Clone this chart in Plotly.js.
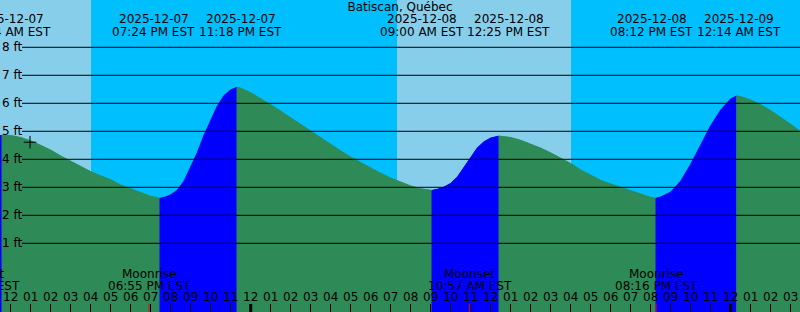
<!DOCTYPE html>
<html>
<head>
<meta charset="utf-8">
<script src="https://cdn.plot.ly/plotly-3.0.1.min.js"></script>
<style>html,body{margin:0;padding:0;background:#00BFFF;}#chart{width:800px;height:312px;}</style>
</head>
<body>
<div id="chart"></div>
<script>
// ---- data ----
const stationName = 'Batiscan, Québec';
const tideTimes = [
  '2025-12-07 11:27','2025-12-07 11:34','2025-12-07 12:00','2025-12-07 12:30','2025-12-07 13:00',
  '2025-12-07 13:30','2025-12-07 14:00','2025-12-07 14:30','2025-12-07 15:00','2025-12-07 15:30',
  '2025-12-07 16:00','2025-12-07 16:30','2025-12-07 17:00','2025-12-07 17:30','2025-12-07 18:00',
  '2025-12-07 18:30','2025-12-07 19:00','2025-12-07 19:28','2025-12-07 19:44','2025-12-07 20:00',
  '2025-12-07 20:20','2025-12-07 20:40','2025-12-07 21:00','2025-12-07 21:20','2025-12-07 21:40',
  '2025-12-07 22:00','2025-12-07 22:20','2025-12-07 22:40','2025-12-07 23:00','2025-12-07 23:19',
  '2025-12-07 23:30','2025-12-08 00:00','2025-12-08 00:30','2025-12-08 01:00','2025-12-08 01:30',
  '2025-12-08 02:00','2025-12-08 02:30','2025-12-08 03:00','2025-12-08 03:30','2025-12-08 04:00',
  '2025-12-08 04:30','2025-12-08 05:00','2025-12-08 05:30','2025-12-08 06:00','2025-12-08 06:30',
  '2025-12-08 07:00','2025-12-08 07:30','2025-12-08 08:00','2025-12-08 08:30','2025-12-08 09:04',
  '2025-12-08 09:20','2025-12-08 09:40','2025-12-08 10:00','2025-12-08 10:20','2025-12-08 10:40',
  '2025-12-08 11:00','2025-12-08 11:20','2025-12-08 11:40','2025-12-08 12:00','2025-12-08 12:25',
  '2025-12-08 13:00','2025-12-08 13:30','2025-12-08 14:00','2025-12-08 14:30','2025-12-08 15:00',
  '2025-12-08 15:30','2025-12-08 16:00','2025-12-08 16:30','2025-12-08 17:00','2025-12-08 17:30',
  '2025-12-08 18:00','2025-12-08 18:30','2025-12-08 19:00','2025-12-08 19:30','2025-12-08 20:00',
  '2025-12-08 20:16','2025-12-08 20:30','2025-12-08 21:00','2025-12-08 21:30','2025-12-08 22:00',
  '2025-12-08 22:30','2025-12-08 23:00','2025-12-08 23:30','2025-12-09 00:00','2025-12-09 00:18',
  '2025-12-09 00:30','2025-12-09 01:00','2025-12-09 01:30','2025-12-09 02:00','2025-12-09 02:30',
  '2025-12-09 03:00','2025-12-09 03:30'
];
const tideFt = [
  4.84,4.86,4.85,4.78,4.66,
  4.50,4.33,4.12,3.93,3.74,
  3.56,3.41,3.27,3.08,2.94,
  2.80,2.68,2.61,2.65,2.73,
  2.90,3.22,3.70,4.24,4.86,
  5.40,5.90,6.28,6.48,6.57,
  6.54,6.38,6.18,5.95,5.72,
  5.48,5.24,5.00,4.76,4.52,
  4.30,4.08,3.88,3.68,3.50,
  3.33,3.18,3.05,2.95,2.89,
  2.93,3.01,3.14,3.37,3.71,
  4.09,4.41,4.63,4.76,4.83,
  4.78,4.68,4.55,4.40,4.23,
  4.05,3.85,3.62,3.42,3.25,
  3.12,3.00,2.87,2.74,2.64,
  2.61,2.65,2.83,3.22,3.82,
  4.52,5.20,5.76,6.16,6.26,
  6.24,6.12,5.95,5.74,5.50,
  5.25,4.98
];
// turning points of the drawn curve (where fill colour changes)
const turnTimes = ['2025-12-07 11:34','2025-12-07 19:28','2025-12-07 23:19','2025-12-08 09:04','2025-12-08 12:25','2025-12-08 20:16','2025-12-09 00:18'];
// predicted high / low labels
const extremeTimes = ['2025-12-07 11:34','2025-12-07 19:24','2025-12-07 23:18','2025-12-08 09:00','2025-12-08 12:25','2025-12-08 20:12','2025-12-09 00:14'];
const extremeDates = ['2025-12-07','2025-12-07','2025-12-07','2025-12-08','2025-12-08','2025-12-08','2025-12-09'];
const extremeClock = ['11:34 AM EST','07:24 PM EST','11:18 PM EST','09:00 AM EST','12:25 PM EST','08:12 PM EST','12:14 AM EST'];
const moonTimes = ['2025-12-07 10:22','2025-12-07 18:55','2025-12-08 10:57','2025-12-08 20:16'];
const moonEvents = ['Moonset','Moonrise','Moonset','Moonrise'];
const moonClock = ['10:22 AM EST','06:55 PM EST','10:57 AM EST','08:16 PM EST'];
const sunriseTimes = ['2025-12-07 07:18','2025-12-08 07:19'];
const sunsetTimes = ['2025-12-07 16:01','2025-12-08 16:01'];
const ftTicks = [1,2,3,4,5,6,7,8];
const ftTickLabels = ['1 ft','2 ft','3 ft','4 ft','5 ft','6 ft','7 ft','8 ft'];
const nowTime = ['2025-12-07 12:58'];
const nowFt = [4.61];

// ---- layout constants ----
const W = 800, H = 312;
const xStart = '2025-12-07 11:27:54', xEnd = '2025-12-09 03:27:54';
const yMin = -1.454, yMax = 9.689;
const BASE = -3;
const FONT = 'DejaVu Sans';
const toMs = s => Date.parse(s.replace(' ', 'T') + 'Z');
const pad2 = n => (n < 10 ? '0' : '') + n;
const fmt = ms => { const d = new Date(ms); return d.getUTCFullYear() + '-' + pad2(d.getUTCMonth()+1) + '-' + pad2(d.getUTCDate()) + ' ' + pad2(d.getUTCHours()) + ':' + pad2(d.getUTCMinutes()); };
const xPaper = s => (toMs(s) - toMs(xStart)) / (toMs(xEnd) - toMs(xStart));
const py = pix => 1 - pix / H;

const traces = [];
// tide fills split at turning points
const bounds = [0];
turnTimes.forEach(t => { const k = tideTimes.indexOf(t); if (k > 0 && k < tideTimes.length - 1) bounds.push(k); });
bounds.push(tideTimes.length - 1);
for (let s = 0; s < bounds.length - 1; s++) {
  const a = bounds[s], b = bounds[s + 1];
  const xs = tideTimes.slice(a, b + 1), ys = tideFt.slice(a, b + 1);
  const col = ys[ys.length - 1] > ys[0] ? '#0000FF' : '#2E8B57';
  traces.push({type:'scatter', mode:'lines', x: xs.concat([xs[xs.length-1], xs[0], xs[0]]), y: ys.concat([BASE, BASE, ys[0]]),
    fill:'toself', fillcolor: col, line:{color: col, width: 1}, hoverinfo:'skip', showlegend:false});
}
traces.push({type:'scatter', mode:'markers', x: nowTime, y: nowFt,
  marker:{symbol:'cross-thin', size: 9, color:'black', line:{color:'black', width:1}}, hoverinfo:'skip', showlegend:false});

const shapes = [];
for (let i = 0; i < sunriseTimes.length; i++) {
  shapes.push({type:'rect', xref:'x', yref:'paper', x0: sunriseTimes[i], x1: sunsetTimes[i], y0: 0, y1: 1,
    fillcolor:'#87CEEB', line:{width:0}, layer:'below'});
}
ftTicks.forEach(v => shapes.push({type:'line', xref:'paper', yref:'y', x0: 22 / W, x1: 1, y0: v, y1: v,
  line:{color:'black', width:1}, layer:'above'}));
const annotations = [];
for (let t = toMs('2025-12-07 12:00'); t <= toMs(xEnd); t += 3600000) {
  const d = new Date(t);
  const h = d.getUTCHours();
  const h12 = h % 12 === 0 ? 12 : h % 12;
  annotations.push({xref:'x', yref:'paper', x: fmt(t), y: py(297.1), text: pad2(h12), showarrow:false,
    xanchor:'center', yanchor:'middle', font:{family:FONT, size:12, color:'black'}});
  if (h === 0) shapes.push({type:'line', xref:'x', yref:'paper', x0: fmt(t), x1: fmt(t), y0: 0, y1: 8 / H,
    line:{color:'black', width:3}, layer:'above'});
}
moonTimes.forEach((t, i) => {
  const p = xPaper(t);
  if (p >= 0 && p <= 1) shapes.push({type:'line', xref:'x', yref:'paper', x0: t, x1: t, y0: 0, y1: 8.5 / H,
    line:{color:'#FF0000', width:1}, layer:'above'});
  annotations.push({xref:'paper', yref:'paper', x: p, y: py(273.8), text: moonEvents[i], showarrow:false,
    xanchor:'center', yanchor:'middle', font:{family:FONT, size:12, color:'black'}});
  annotations.push({xref:'paper', yref:'paper', x: p, y: py(285.8), text: moonClock[i], showarrow:false,
    xanchor:'center', yanchor:'middle', font:{family:FONT, size:12, color:'black'}});
});
const labelShift = [6.5, -5, 4, -9, 9.5, -3, 4];
extremeTimes.forEach((t, i) => {
  const p = xPaper(t);
  annotations.push({xref:'paper', yref:'paper', x: p, xshift: labelShift[i], y: py(19.1), text: extremeDates[i], showarrow:false,
    xanchor:'center', yanchor:'middle', font:{family:FONT, size:12, color:'black'}});
  annotations.push({xref:'paper', yref:'paper', x: p, xshift: labelShift[i], y: py(31.8), text: extremeClock[i], showarrow:false,
    xanchor:'center', yanchor:'middle', font:{family:FONT, size:12, color:'black'}});
});
ftTicks.forEach((v, i) => annotations.push({xref:'paper', yref:'y', x: 0, y: v, text: ftTickLabels[i], showarrow:false,
  xanchor:'left', yanchor:'middle', font:{family:FONT, size:12, color:'black'}}));

const layout = {
  width: W, height: H,
  margin:{l:0, r:0, t:0, b:0, pad:0},
  paper_bgcolor:'#00BFFF', plot_bgcolor:'#00BFFF',
  font:{family:FONT, size:12, color:'black'},
  title:{text: stationName, x:0.5, xanchor:'center', xref:'paper', yref:'container', y: py(7.1), yanchor:'middle',
    font:{family:FONT, size:12, color:'black'}},
  showlegend:false,
  xaxis:{type:'date', range:[xStart, xEnd], showgrid:false, zeroline:false, showline:false,
    ticks:'inside', ticklen:8, tickwidth:1, tickcolor:'black', tick0:'2025-12-07 12:00', dtick:3600000,
    showticklabels:false, fixedrange:true},
  yaxis:{range:[yMin, yMax], showgrid:false, zeroline:false, showline:false, showticklabels:false, ticks:'', fixedrange:true},
  shapes: shapes,
  annotations: annotations
};
Plotly.newPlot('chart', traces, layout, {staticPlot:true, displayModeBar:false});
</script>
</body>
</html>
